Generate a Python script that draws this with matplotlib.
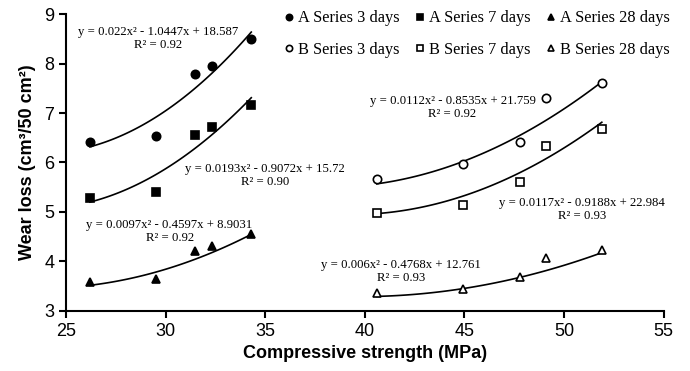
import numpy as np
import matplotlib.pyplot as plt

# strength (MPa) for each series
a_x = [26.2, 29.5, 31.45, 32.35, 34.3]
b_x = [40.6, 44.95, 47.8, 49.1, 51.9]

# wear loss values
a3 = [6.41, 6.54, 7.79, 7.96, 8.49]
a7 = [5.29, 5.40, 6.56, 6.71, 7.17]
a28 = [3.59, 3.64, 4.22, 4.31, 4.55]
b3 = [5.67, 5.97, 6.42, 7.30, 7.60]
b7 = [4.97, 5.15, 5.61, 6.34, 6.67]
b28 = [3.37, 3.44, 3.69, 4.06, 4.23]

# polynomial trendline coefficients (as printed on the chart)
fit_a3 = [0.022, -1.0447, 18.587]
fit_a7 = [0.0193, -0.9072, 15.72]
fit_a28 = [0.0097, -0.4597, 8.9031]
fit_b3 = [0.0112, -0.8535, 21.759]
fit_b7 = [0.0117, -0.9188, 22.984]
fit_b28 = [0.006, -0.4768, 12.761]

eq_labels = [
    "y = 0.022x² - 1.0447x + 18.587\nR² = 0.92",
    "y = 0.0193x² - 0.9072x + 15.72\nR² = 0.90",
    "y = 0.0097x² - 0.4597x + 8.9031\nR² = 0.92",
    "y = 0.0112x² - 0.8535x + 21.759\nR² = 0.92",
    "y = 0.0117x² - 0.9188x + 22.984\nR² = 0.93",
    "y = 0.006x² - 0.4768x + 12.761\nR² = 0.93",
]
eq_pos = [(29.6, 8.50), (35.0, 5.73), (30.2, 4.61),
          (44.4, 7.12), (50.9, 5.05), (41.8, 3.80)]

fig = plt.figure(figsize=(6.9, 3.71), dpi=100)
ax = fig.add_axes([0.0957, 0.162, 0.866, 0.80])

series = [
    (a_x, a3, fit_a3, 'o', 'black', 'A Series 3 days'),
    (a_x, a7, fit_a7, 's', 'black', 'A Series 7 days'),
    (a_x, a28, fit_a28, '^', 'black', 'A Series 28 days'),
    (b_x, b3, fit_b3, 'o', 'white', 'B Series 3 days'),
    (b_x, b7, fit_b7, 's', 'white', 'B Series 7 days'),
    (b_x, b28, fit_b28, '^', 'white', 'B Series 28 days'),
]

handles = {}
for xs, ys, coef, mk, fc, name in series:
    xx = np.linspace(min(xs), max(xs), 100)
    ax.plot(xx, np.polyval(coef, xx), color='black', lw=1.2, zorder=2)
    h, = ax.plot(xs, ys, linestyle='none', marker=mk, markersize=6,
                 markerfacecolor=fc, markeredgecolor='black',
                 markeredgewidth=1.2, label=name, zorder=3)
    handles[name] = h

for txt, (tx, ty) in zip(eq_labels, eq_pos):
    ax.text(tx, ty, txt, ha='center', va='center', fontsize=9.2,
            family='Liberation Serif', linespacing=1.1)

order = ['A Series 3 days', 'B Series 3 days', 'A Series 7 days',
         'B Series 7 days', 'A Series 28 days', 'B Series 28 days']
ax.legend([handles[k] for k in order], order, ncol=3, frameon=False,
          loc='upper right', bbox_to_anchor=(1.035, 1.062),
          prop={'family': 'Liberation Serif', 'size': 11.8},
          handlelength=0.5, handletextpad=0.3, columnspacing=1.0,
          labelspacing=0.95, markerscale=0.75)

ax.set_xlim(25, 55)
ax.set_ylim(3, 9)
ax.set_xticks(range(25, 56, 5))
ax.set_yticks(range(3, 10))
for s in ['top', 'right']:
    ax.spines[s].set_visible(False)
for s in ['left', 'bottom']:
    ax.spines[s].set_linewidth(1.5)
ax.tick_params(direction='out', length=5, width=1.5, labelsize=13)
for lab in ax.get_xticklabels() + ax.get_yticklabels():
    lab.set_family('Liberation Sans')

ax.set_xlabel('Compressive strength (MPa)', fontsize=13, fontweight='bold',
              family='Liberation Sans')
ax.set_ylabel('Wear loss (cm³/50 cm²)', fontsize=13, fontweight='bold',
              family='Liberation Sans', labelpad=6)

fig.savefig('out.png', dpi=100)
